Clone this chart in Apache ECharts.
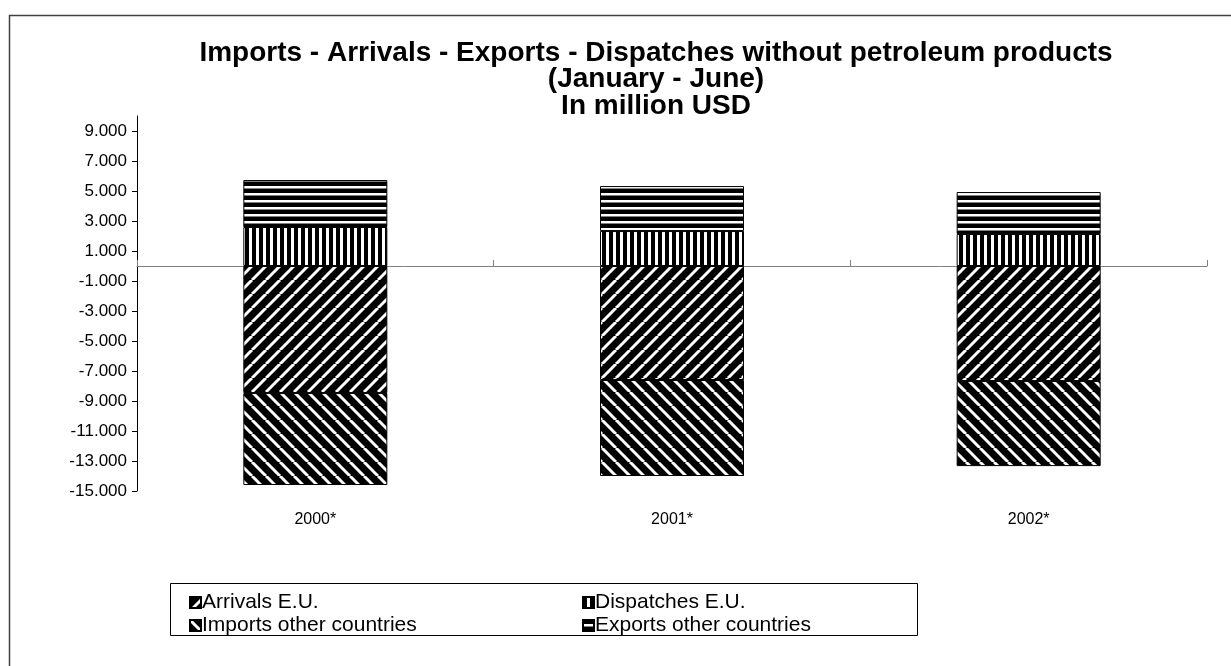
<!DOCTYPE html>
<html>
<head>
<meta charset="utf-8">
<script src="https://cdn.jsdelivr.net/npm/echarts@6/dist/echarts.min.js"></script>
<style>
html,body{margin:0;padding:0;background:#fff;}
#chart{width:1231px;height:666px;}
</style>
</head>
<body>
<div id="chart"></div>
<script>
// ---- data ----
var categories = ['2000*', '2001*', '2002*'];
var arrivalsEU = [-8470, -7600, -7670];
var dispatchesEU = [2600, 2330, 2130];
var importsOther = [-6130, -6400, -5670];
var exportsOther = [3130, 3000, 2800];
var yTickValues = [-15000, -13000, -11000, -9000, -7000, -5000, -3000, -1000, 1000, 3000, 5000, 7000, 9000];
var seriesNames = ['Arrivals E.U.', 'Dispatches E.U.', 'Imports other countries', 'Exports other countries'];

// ---- patterns ----
function makeCanvas(w, h) {
  var c = document.createElement('canvas');
  c.width = w; c.height = h;
  return c;
}
function diagPattern(forward) {
  var s = 14, c = makeCanvas(s, s), ctx = c.getContext('2d');
  ctx.fillStyle = '#000'; ctx.fillRect(0, 0, s, s);
  ctx.strokeStyle = '#fff'; ctx.lineWidth = 3;
  for (var k = -1; k <= 1; k++) {
    ctx.beginPath();
    if (forward) { ctx.moveTo(k * s, s); ctx.lineTo(k * s + s, 0); }
    else { ctx.moveTo(k * s, 0); ctx.lineTo(k * s + s, s); }
    ctx.stroke();
  }
  return c;
}
function stripePattern(vertical) {
  var p = 7, c = makeCanvas(p, p), ctx = c.getContext('2d');
  ctx.fillStyle = '#000'; ctx.fillRect(0, 0, p, p);
  ctx.fillStyle = '#fff';
  if (vertical) ctx.fillRect(4, 0, 3, p); else ctx.fillRect(0, 4, p, 2.5);
  return c;
}
var patArrivals = { image: diagPattern(true), repeat: 'repeat' };
var patImports = { image: diagPattern(false), repeat: 'repeat' };
var patDispatches = { image: stripePattern(true), repeat: 'repeat' };
var patExports = { image: stripePattern(false), repeat: 'repeat' };

function fmt(v) {
  var s = Math.abs(v).toString().replace(/\B(?=(\d{3})+(?!\d))/g, '.');
  return (v < 0 ? '-' : '') + s;
}

function barSeries(name, data, pat) {
  return {
    name: name, type: 'bar', stack: 'total', data: data,
    xAxisIndex: 0, yAxisIndex: 0,
    barWidth: 144,
    itemStyle: { color: pat, borderColor: '#000', borderWidth: 1 },
    emphasis: { disabled: true }
  };
}

var chart = echarts.init(document.getElementById('chart'), null, { renderer: 'canvas' });
var font = 'Arial, "Liberation Sans", sans-serif';
var legendText = { fontSize: 21, lineHeight: 21, color: '#000', fontFamily: font, padding: [0, 0, 0, -4] };
chart.setOption({
  animation: false,
  backgroundColor: '#fff',
  textStyle: { fontFamily: font },
  title: {
    text: 'Imports - Arrivals - Exports - Dispatches without petroleum products\n(January - June)\nIn million USD',
    left: 651, top: 35,
    textAlign: 'center',
    textStyle: { fontFamily: font, fontSize: 28, fontWeight: 'bold', color: '#000', lineHeight: 26.5, align: 'center' }
  },
  grid: [
    { left: 137, right: 24, top: 116, bottom: 175, containLabel: false, outerBoundsMode: 'none' },
    { left: 137, right: 24, top: 116, bottom: 175, containLabel: false, outerBoundsMode: 'none' }
  ],
  xAxis: [
    {
      type: 'category', data: categories, gridIndex: 0,
      axisLine: { show: true, onZero: true, lineStyle: { color: '#808080', width: 1 } },
      axisTick: { show: true, inside: true, length: 6, lineStyle: { color: '#808080' } },
      axisLabel: { show: false }
    },
    {
      type: 'category', data: categories, gridIndex: 1, position: 'bottom',
      axisLine: { show: false, onZero: false }, axisTick: { show: false },
      axisLabel: { show: true, margin: 21, fontSize: 16, color: '#000', fontFamily: font }
    }
  ],
  yAxis: [
    {
      type: 'value', min: -15000, max: 10000, interval: 1000, gridIndex: 0,
      axisLine: { show: true, lineStyle: { color: '#000', width: 1 } },
      axisTick: { show: true, length: 5, customValues: yTickValues, lineStyle: { color: '#000' } },
      axisLabel: { customValues: yTickValues, formatter: fmt, fontSize: 17, color: '#000', margin: 10, fontFamily: font },
      splitLine: { show: false }
    },
    {
      type: 'value', min: -15000, max: 10000, gridIndex: 1, show: false
    }
  ],
  legend: [
    {
      data: [seriesNames[0], seriesNames[2]], orient: 'vertical', left: 184, top: 587,
      itemWidth: 11, itemHeight: 11, itemGap: 2, icon: 'rect',
      textStyle: legendText, selectedMode: false
    },
    {
      data: [seriesNames[1], seriesNames[3]], orient: 'vertical', left: 577, top: 587,
      itemWidth: 11, itemHeight: 11, itemGap: 2, icon: 'rect',
      textStyle: legendText, selectedMode: false
    }
  ],
  graphic: [
    { type: 'rect', shape: { x: 9.5, y: 15.5, width: 1300, height: 700 }, style: { fill: 'none', stroke: '#404040', lineWidth: 1.5 }, silent: true },
    { type: 'rect', shape: { x: 170.5, y: 583.5, width: 747, height: 52 }, style: { fill: 'none', stroke: '#000', lineWidth: 1 }, silent: true }
  ],
  series: [
    barSeries(seriesNames[0], arrivalsEU, patArrivals),
    barSeries(seriesNames[1], dispatchesEU, patDispatches),
    barSeries(seriesNames[2], importsOther, patImports),
    barSeries(seriesNames[3], exportsOther, patExports)
  ]
});
</script>
</body>
</html>
